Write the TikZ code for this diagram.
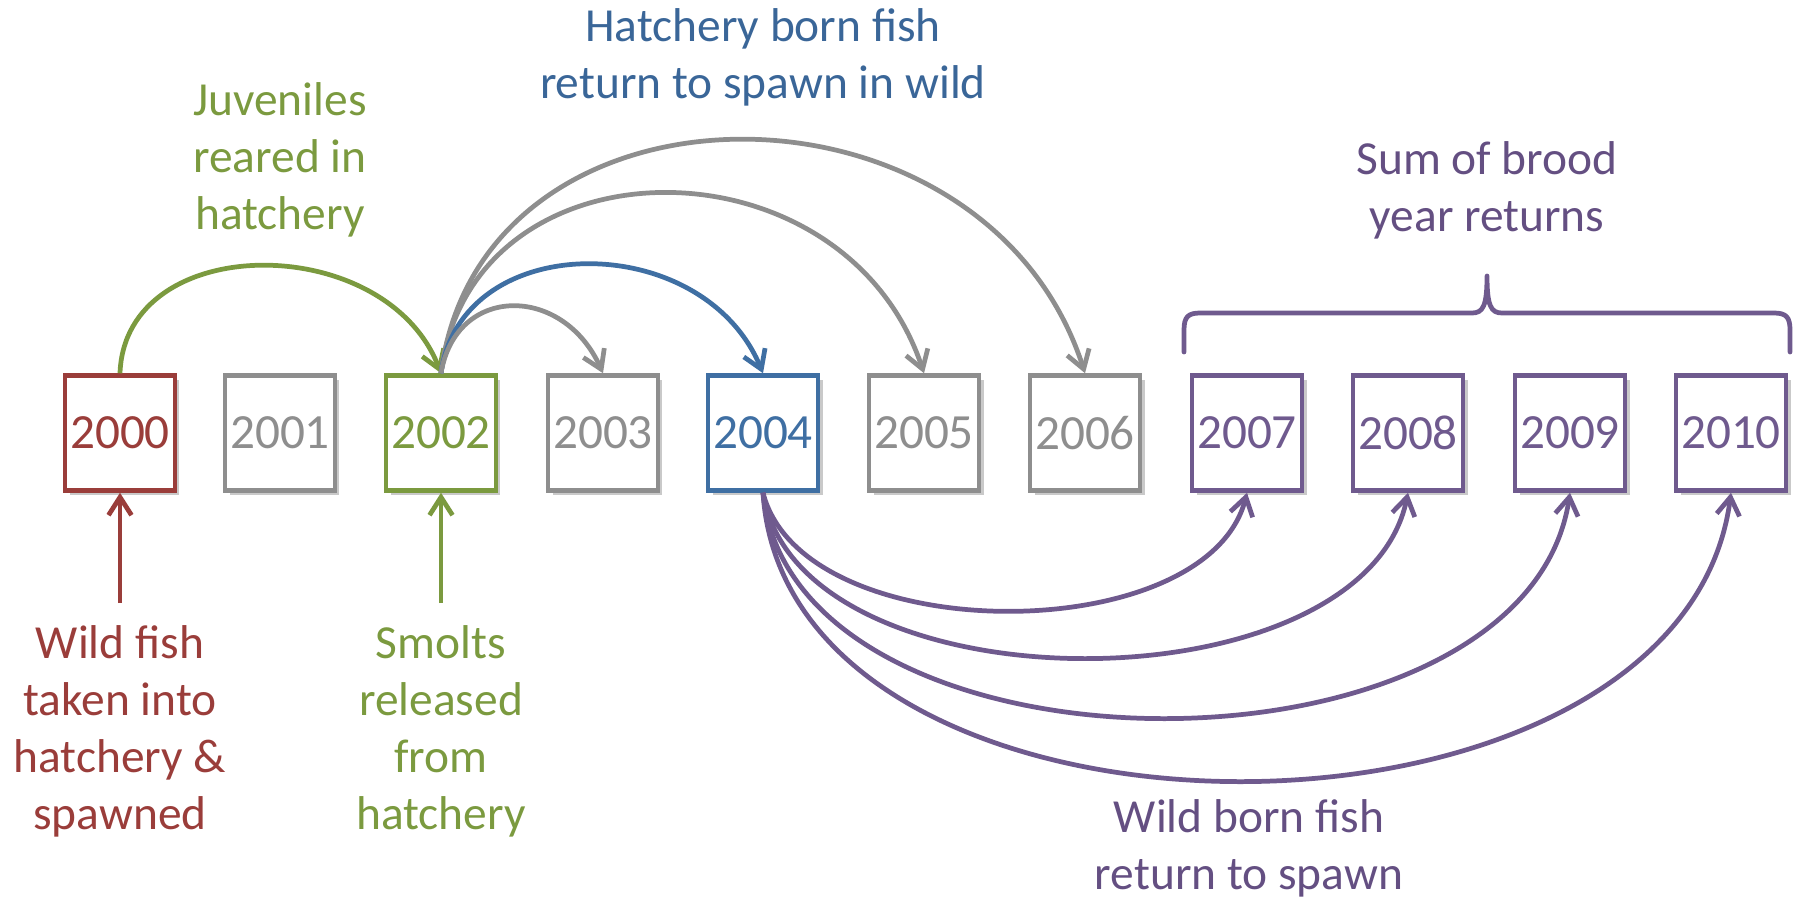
\documentclass[tikz,border=0pt]{standalone}
\usepackage{fontspec}
\setmainfont{Carlito}
\usetikzlibrary{arrows.meta,shadows}
\definecolor{cred}{HTML}{9A3D3A}
\definecolor{cgreen}{HTML}{7B9A3F}
\definecolor{cblue}{HTML}{3F6FA3}
\definecolor{cpurple}{HTML}{6F5A8E}
\definecolor{cgray}{HTML}{8E8E8E}
\definecolor{tblue}{HTML}{3A6698}
\definecolor{tpurple}{HTML}{644F82}
\tikzset{
  yearbox/.style={draw=#1, text=#1, line width=2.6pt, fill=white,
    minimum width=2.2cm, minimum height=2.3cm, inner sep=0pt,
    font=\fontsize{28pt}{30pt}\selectfont,
    drop shadow={shadow xshift=0.09cm, shadow yshift=-0.09cm, opacity=0.3, fill=black!70}},
  lbl/.style={text=#1, align=center, font=\fontsize{27pt}{32.4pt}\selectfont, inner sep=0pt},
  conn/.style={draw=#1, line width=2.7pt, -{Straight Barb[length=0.36cm, width=0.46cm]}},
}
\begin{document}
\begin{tikzpicture}[x=0.02cm, y=-0.02cm]
\useasboundingbox (0,0) rectangle (1794,900);

% year boxes
\foreach \yr/\xx/\col in {2000/120/cred, 2001/280/cgray, 2002/441/cgreen, 2003/603/cgray,
  2004/763/cblue, 2005/924/cgray, 2006/1085/cgray, 2007/1247/cpurple,
  2008/1408/cpurple, 2009/1570/cpurple, 2010/1731/cpurple}
  \node[yearbox=\col] (y\yr) at (\xx,433) {\yr};

% labels
\node[lbl=cgreen] (juv) at (280,160) {Juveniles\\reared in\\hatchery};
\node[lbl=tblue] (hborn) at (763,57) {Hatchery born fish\\return to spawn in wild};
\node[lbl=tpurple] (sum) at (1487,190) {Sum of brood\\year returns};
\node[lbl=cred] (wfish) at (120,731) {Wild fish\\taken into\\hatchery \&\\spawned};
\node[lbl=cgreen] (smolts) at (441,731) {Smolts\\released\\from\\hatchery};
\node[lbl=tpurple] (wborn) at (1249,848) {Wild born fish\\return to spawn};

% bottom arrows
\coordinate (redstart) at (120,603);
\coordinate (greenstart) at (441,603);
\draw[conn=cred] (redstart) -- (y2000.south);
\draw[conn=cgreen] (greenstart) -- (y2002.south);

% upper arcs
\draw[conn=cgreen] (y2000.north) .. controls +(5,-143) and +(-55,-143) .. (y2002.north);
\draw[conn=cgray] (y2002.north) .. controls +(40,-311) and +(-100,-311) .. (y2006.north);
\draw[conn=cgray] (y2002.north) .. controls +(30,-240) and +(-80,-240) .. (y2005.north);
\draw[conn=cblue] (y2002.north) .. controls +(20,-145) and +(-60,-145) .. (y2004.north);
\draw[conn=cgray] (y2002.north) .. controls +(15,-89) and +(-40,-89) .. (y2003.north);

% lower arcs
\draw[conn=cpurple] (y2004.south) .. controls +(40,157) and +(-40,157) .. (y2007.south);
\draw[conn=cpurple] (y2004.south) .. controls +(35,220) and +(-45,220) .. (y2008.south);
\draw[conn=cpurple] (y2004.south) .. controls +(30,300) and +(-45,300) .. (y2009.south);
\draw[conn=cpurple] (y2004.south) .. controls +(25,384) and +(-50,384) .. (y2010.south);

% brace
\draw[cpurple, line width=2.7pt, line cap=round, line join=round]
  (1184,352) -- (1184,330) .. controls (1184,317) and (1188,313) .. (1200,313)
  -- (1472,313) .. controls (1483,313) and (1487,306) .. (1487,276)
  .. controls (1487,306) and (1491,313) .. (1502,313)
  -- (1774,313) .. controls (1786,313) and (1790,317) .. (1790,330) -- (1790,352);
\end{tikzpicture}
\end{document}
